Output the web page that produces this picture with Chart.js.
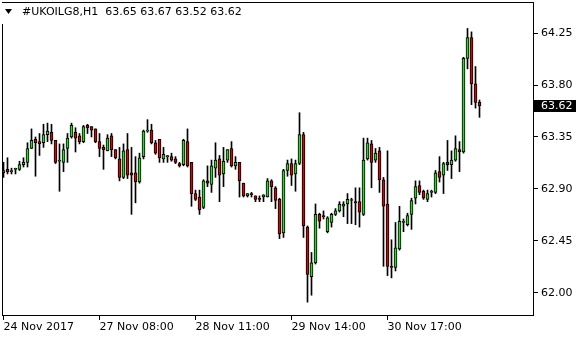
<!DOCTYPE html>
<html>
<head>
<meta charset="utf-8">
<script src="https://cdn.jsdelivr.net/npm/chart.js@4.4.0/dist/chart.umd.min.js"></script>
<style>
  html, body { margin: 0; padding: 0; background: #fff; }
</style>
</head>
<body>
<canvas id="chart" width="580" height="340"></canvas>
<script>
// H1 candles, oldest first
const symbol = '#UKOILG8,H1';
const opens = [
  63.04, 63.07, 63.05, 63.07, 63.07, 63.11, 63.13, 63.25, 63.33, 63.31,
  63.30, 63.37, 63.39, 63.32, 63.14, 63.13, 63.25, 63.35, 63.39, 63.36,
  63.31, 63.45, 63.44, 63.42, 63.31, 63.26, 63.23, 63.36, 63.24, 63.16,
  63.00, 63.24, 63.04, 63.04, 62.96, 63.18, 63.40, 63.41, 63.30, 63.33,
  63.16, 63.18, 63.18, 63.16, 63.12, 63.11, 63.31, 63.13, 62.86, 62.83,
  62.74, 62.97, 62.94, 63.08, 63.16, 63.03, 63.15, 63.25, 63.10, 63.13,
  62.95, 62.84, 62.86, 62.84, 62.82, 62.83, 62.83, 62.97, 62.91, 62.81,
  62.52, 63.06, 63.12, 63.03, 63.12, 63.37, 62.57, 62.14, 62.26, 62.68,
  62.67, 62.53, 62.61, 62.68, 62.71, 62.75, 62.77, 62.80, 62.79, 62.79,
  62.68, 63.16, 63.29, 63.15, 63.23, 62.98, 62.77, 62.23, 62.22, 62.38,
  62.61, 62.59, 62.68, 62.82, 62.93, 62.88, 62.81, 62.87, 62.87, 63.05,
  63.02, 63.13, 63.11, 63.15, 63.24, 63.22, 64.03, 64.21, 63.81, 63.65
];
const highs = [
  63.13, 63.17, 63.08, 63.08, 63.14, 63.17, 63.30, 63.42, 63.35, 63.38,
  63.46, 63.47, 63.46, 63.32, 63.29, 63.29, 63.38, 63.47, 63.43, 63.38,
  63.45, 63.46, 63.44, 63.42, 63.38, 63.28, 63.37, 63.38, 63.24, 63.26,
  63.29, 63.38, 63.26, 63.18, 63.21, 63.41, 63.50, 63.46, 63.32, 63.33,
  63.26, 63.19, 63.21, 63.18, 63.13, 63.33, 63.42, 63.13, 62.89, 62.89,
  62.98, 63.10, 63.15, 63.30, 63.19, 63.26, 63.24, 63.31, 63.18, 63.13,
  62.95, 62.86, 62.87, 62.84, 62.84, 62.85, 62.99, 62.98, 62.92, 62.82,
  63.07, 63.15, 63.16, 63.15, 63.56, 63.39, 62.58, 62.35, 62.77, 62.69,
  62.71, 62.66, 62.69, 62.73, 62.79, 62.79, 62.86, 62.82, 62.91, 62.91,
  63.34, 63.34, 63.32, 63.25, 63.26, 63.00, 63.23, 62.46, 62.61, 62.75,
  62.64, 62.69, 62.82, 62.97, 62.97, 62.89, 62.89, 62.89, 63.06, 63.18,
  63.13, 63.32, 63.23, 63.36, 63.31, 64.04, 64.29, 64.26, 63.96, 63.67
];
const lows = [
  63.00, 63.03, 63.03, 63.03, 63.06, 63.09, 63.09, 63.25, 63.01, 63.19,
  63.26, 63.31, 63.29, 63.12, 62.88, 63.05, 63.13, 63.34, 63.22, 63.29,
  63.30, 63.38, 63.35, 63.30, 63.18, 63.07, 63.23, 63.18, 63.16, 62.97,
  62.99, 62.99, 62.68, 62.78, 62.95, 63.16, 63.39, 63.29, 63.20, 63.13,
  63.13, 63.13, 63.14, 63.12, 63.09, 63.10, 63.09, 62.75, 62.80, 62.68,
  62.73, 62.92, 62.87, 63.00, 62.79, 62.92, 63.13, 63.09, 63.07, 62.83,
  62.83, 62.83, 62.83, 62.79, 62.79, 62.79, 62.83, 62.79, 62.73, 62.47,
  62.48, 63.01, 62.93, 62.88, 63.11, 62.48, 61.92, 61.98, 62.25, 62.56,
  62.64, 62.52, 62.57, 62.67, 62.70, 62.66, 62.60, 62.60, 62.59, 62.57,
  62.67, 63.15, 62.91, 63.13, 62.87, 62.23, 62.15, 62.13, 62.19, 62.37,
  62.53, 62.58, 62.55, 62.77, 62.85, 62.81, 62.79, 62.83, 62.86, 62.96,
  62.86, 63.06, 62.99, 63.14, 63.05, 63.21, 63.94, 63.63, 63.60, 63.52
];
const closes = [
  63.06, 63.05, 63.06, 63.07, 63.11, 63.13, 63.25, 63.32, 63.30, 63.29,
  63.37, 63.40, 63.32, 63.13, 63.14, 63.24, 63.34, 63.45, 63.34, 63.31,
  63.44, 63.43, 63.41, 63.31, 63.25, 63.24, 63.34, 63.24, 63.17, 63.00,
  63.23, 63.02, 63.02, 62.96, 63.17, 63.40, 63.40, 63.30, 63.21, 63.17,
  63.20, 63.18, 63.15, 63.13, 63.10, 63.32, 63.10, 62.86, 62.81, 62.72,
  62.97, 62.95, 63.10, 63.15, 63.02, 63.14, 63.24, 63.10, 63.13, 62.97,
  62.84, 62.86, 62.85, 62.81, 62.81, 62.85, 62.97, 62.92, 62.80, 62.51,
  63.06, 63.12, 63.02, 63.12, 63.37, 62.58, 62.16, 62.26, 62.68, 62.62,
  62.66, 62.65, 62.68, 62.71, 62.77, 62.77, 62.81, 62.80, 62.78, 62.70,
  63.15, 63.30, 63.13, 63.21, 62.98, 62.75, 62.23, 62.22, 62.39, 62.62,
  62.61, 62.67, 62.80, 62.92, 62.87, 62.82, 62.86, 62.88, 63.04, 63.00,
  63.12, 63.11, 63.15, 63.25, 63.22, 64.03, 64.21, 63.81, 63.65, 63.62
];
const timeTickIndex = [0, 24, 48, 72, 96];
const timeTickLabels = ['24 Nov 2017', '27 Nov 08:00', '28 Nov 11:00', '29 Nov 14:00', '30 Nov 17:00'];
const priceTicks = [62.00, 62.45, 62.90, 63.35, 63.80, 64.25];

const BULL = '#1ee01e';
const BEAR = '#e00000';
const FONT = { family: '"DejaVu Sans", Tahoma, sans-serif', size: 11 };

const bodies = opens.map((o, i) => ({ x: i, y: [o, closes[i]] }));
const wicks = lows.map((l, i) => ({ x: i, y: [l, highs[i]] }));
const bodyColors = opens.map((o, i) => closes[i] >= o ? BULL : BEAR);

// no extra room for overhanging labels, the plot box is fixed
function noLabelPadding(s) {
  s.paddingTop = 0;
  s.paddingBottom = 0;
  s.paddingLeft = 0;
  s.paddingRight = 0;
}

// frame, title line and the last-price tag, drawn like the terminal does
const terminalDecor = {
  id: 'terminalDecor',
  afterDraw(chart) {
    const { ctx, chartArea: a, scales } = chart;
    const f = FONT.size + 'px ' + FONT.family;
    ctx.save();
    ctx.strokeStyle = '#000';
    ctx.lineWidth = 1;
    ctx.strokeRect(a.left - 0.5, a.top - 0.5, a.right - a.left, a.bottom - a.top);

    // title box hides the frame corner
    const o = opens[opens.length - 1], h = highs[highs.length - 1];
    const l = lows[lows.length - 1], c = closes[closes.length - 1];
    const title = symbol + '  ' + [o, h, l, c].map(v => v.toFixed(2)).join(' ');
    ctx.font = f;
    const tw = ctx.measureText(title).width;
    ctx.fillStyle = '#fff';
    ctx.fillRect(a.left - 1, a.top, 22 + tw, 21);
    ctx.fillStyle = '#000';
    ctx.beginPath();
    ctx.moveTo(5, 9);
    ctx.lineTo(12, 9);
    ctx.lineTo(8.5, 14);
    ctx.closePath();
    ctx.fill();
    ctx.textBaseline = 'middle';
    ctx.textAlign = 'left';
    ctx.fillText(title, 22, 12);

    // last price tag
    const y = Math.round(scales.y.getPixelForValue(c));
    ctx.fillStyle = '#000';
    ctx.fillRect(a.right, y - 6, 42, 12);
    ctx.fillStyle = '#fff';
    ctx.fillText(c.toFixed(2), a.right + 7, y);
    ctx.restore();
  }
};

new Chart(document.getElementById('chart'), {
  type: 'bar',
  data: {
    datasets: [
      {
        data: bodies,
        backgroundColor: bodyColors,
        borderColor: '#000',
        borderWidth: 1,
        borderSkipped: false,
        barThickness: 3,
        minBarLength: 1,
        grouped: false
      },
      {
        data: wicks,
        backgroundColor: '#000',
        borderWidth: 0,
        barThickness: 1,
        grouped: false
      }
    ]
  },
  options: {
    responsive: false,
    animation: false,
    events: [],
    layout: { padding: { left: 3, top: 3, right: 0, bottom: 0 } },
    plugins: { legend: { display: false }, tooltip: { enabled: false } },
    scales: {
      x: {
        type: 'linear',
        min: -0.125,
        max: 132.625,
        offset: false,
        afterBuildTicks: s => { s.ticks = timeTickIndex.map(v => ({ value: v })); },
        afterFit: s => { s.height = 24; noLabelPadding(s); },
        grid: { drawOnChartArea: false, drawTicks: true, tickLength: 4, color: '#000', offset: false },
        border: { display: false },
        ticks: {
          align: 'start', maxRotation: 0, autoSkip: false, padding: 1,
          color: '#000', font: FONT,
          callback: (v, i) => timeTickLabels[i]
        }
      },
      y: {
        position: 'right',
        min: 61.80,
        max: 64.51,
        afterBuildTicks: s => { s.ticks = priceTicks.map(v => ({ value: v })); },
        afterFit: s => { s.width = 46; noLabelPadding(s); },
        grid: { drawOnChartArea: false, drawTicks: true, tickLength: 4, color: '#000' },
        border: { display: false },
        ticks: { color: '#000', font: FONT, padding: 3, callback: v => v.toFixed(2) }
      }
    }
  },
  plugins: [terminalDecor]
});
</script>
</body>
</html>
